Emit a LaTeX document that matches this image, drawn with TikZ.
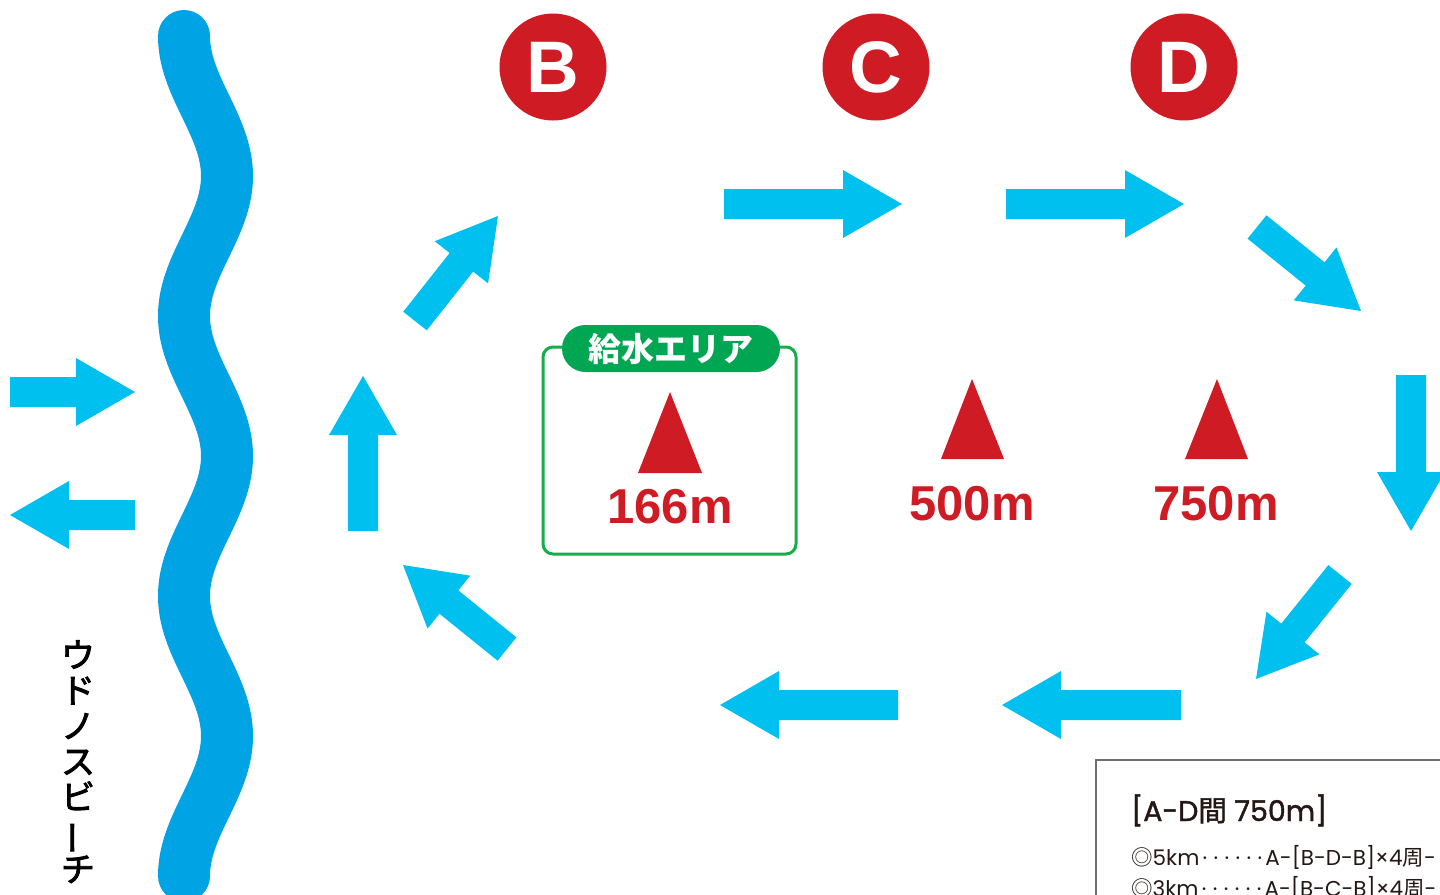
\documentclass[tikz,border=0pt]{standalone}
\usepackage{fontspec}
\setmainfont{Liberation Sans}
\newfontfamily\cjk{Noto Sans CJK JP}
\newfontfamily\cjkm[FakeBold=1.5]{Noto Sans CJK JP}
\newfontfamily\cjkv[FakeBold=2.5]{Noto Sans CJK JP}
\newfontfamily\pop{Poppins}
\newfontfamily\popm[FakeBold=1.5]{Poppins}
\usetikzlibrary{calc}
\definecolor{wavec}{RGB}{0,164,228}
\definecolor{arrc}{RGB}{0,192,240}
\definecolor{redc}{RGB}{207,27,36}
\definecolor{greenc}{RGB}{0,166,81}
\definecolor{framec}{RGB}{22,174,76}
\definecolor{boxgray}{RGB}{110,110,110}
\definecolor{txtc}{RGB}{35,24,21}
\newcommand\fatarr[2]{%
  \coordinate (#2-h) at ($(#2)!59pt!(#1)$);
  \fill[arrc] ($(#1)!15pt!90:(#2)$) -- ($(#2-h)!15pt!-90:(#1)$) -- ($(#2-h)!34pt!-90:(#1)$) -- (#2)
     -- ($(#2-h)!34pt!90:(#1)$) -- ($(#2-h)!15pt!90:(#1)$) -- ($(#1)!15pt!-90:(#2)$) -- cycle;}
\newcommand\dd{\makebox[11pt]{·}}
\begin{document}
\begin{tikzpicture}[x=1pt,y=-1pt,
  marker/.style={circle, fill=redc, minimum size=107pt, inner sep=0pt, text=white, font=\bfseries\fontsize{73}{73}\selectfont},
  dist/.style={anchor=base, text=redc, font=\bfseries\fontsize{49}{49}\selectfont, inner sep=0pt},
  tri/.style={fill=redc},
  info/.style={anchor=base west, inner sep=0pt, text=txtc}]
\useasboundingbox (0,0) rectangle (1440,894);
\clip (0,0) rectangle (1440,894);
\fill[white] (0,0) rectangle (1440,894);
% river
\draw[wavec, line width=52pt, line cap=round] plot[domain=36:876, samples=241, variable=\t] ({205.5-21.5*cos((\t-36)*1.2857143)}, \t);
% markers
\node[marker] (B) at (553,67) {B};
\node[marker] (C) at (876,67) {C};
\node[marker] (D) at (1184,67) {D};
% arrow end points
\coordinate (l1t) at (10,392);   \coordinate (l1h) at (135,392);
\coordinate (l2t) at (135,515);  \coordinate (l2h) at (10,515);
\coordinate (upt) at (363,531);  \coordinate (uph) at (363,376);
\coordinate (net) at (415,321);  \coordinate (neh) at (498,216);
\coordinate (t1t) at (724,204);  \coordinate (t1h) at (902,204);
\coordinate (t2t) at (1006,204); \coordinate (t2h) at (1184,204);
\coordinate (set) at (1257,227); \coordinate (seh) at (1361,311);
\coordinate (dnt) at (1411,375); \coordinate (dnh) at (1411,531);
\coordinate (swt) at (1340,574.5); \coordinate (swh) at (1256,679);
\coordinate (b1t) at (1181,705); \coordinate (b1h) at (1002,705);
\coordinate (b2t) at (898,705);  \coordinate (b2h) at (720,705);
\coordinate (nwt) at (507,649);  \coordinate (nwh) at (403,565);
\fatarr{l1t}{l1h}\fatarr{l2t}{l2h}\fatarr{upt}{uph}\fatarr{net}{neh}
\fatarr{t1t}{t1h}\fatarr{t2t}{t2h}\fatarr{set}{seh}\fatarr{dnt}{dnh}
\fatarr{swt}{swh}\fatarr{b1t}{b1h}\fatarr{b2t}{b2h}\fatarr{nwt}{nwh}
% water area
\draw[framec, line width=3pt, rounded corners=10pt] (543,347) rectangle (796,554);
\node[fill=greenc, rounded corners=23.5pt, minimum width=218pt, minimum height=47pt, inner sep=0pt,
  text=white, font=\cjk\bfseries\fontsize{33}{33}\selectfont] (W) at (671,348.5) {給水エリア};
\fill[tri] (670,392) -- (702,473) -- (638,473) -- cycle;
\node[dist] (d1) at (670,523) {166m};
\fill[tri] (972,379) -- (1004,459) -- (941,459) -- cycle;
\node[dist] (d2) at (972,520) {500m};
\fill[tri] (1217,379) -- (1248,459) -- (1185,459) -- cycle;
\node[dist] (d3) at (1216,520) {750m};
% beach label
\node[anchor=north, align=center, inner sep=0pt, font=\cjkv\fontsize{34}{35.5}\selectfont] (beach) at (78,640)
  {ウ\\ド\\ノ\\ス\\ビ\\\rotatebox[origin=c]{90}{ー}\\チ};
% info box
\draw[boxgray, line width=1.5pt] (1096,900) -- (1096,760) -- (1450,760);
\node[info, font=\popm\fontsize{28.5}{29}\selectfont] (title) at (1131,821) {[A-D{\cjkm 間} 750m]};
\node[info, font=\pop\fontsize{21.5}{22}\selectfont] (l5) at (1131,865) {{\cjk ◎}5km\dd\dd\dd\dd\dd\dd A-[B-D-B]×4{\cjk 周}-};
\node[info, font=\pop\fontsize{21.5}{22}\selectfont] (l3) at (1131,896) {{\cjk ◎}3km\dd\dd\dd\dd\dd\dd A-[B-C-B]×4{\cjk 周}-};
\end{tikzpicture}
\end{document}
